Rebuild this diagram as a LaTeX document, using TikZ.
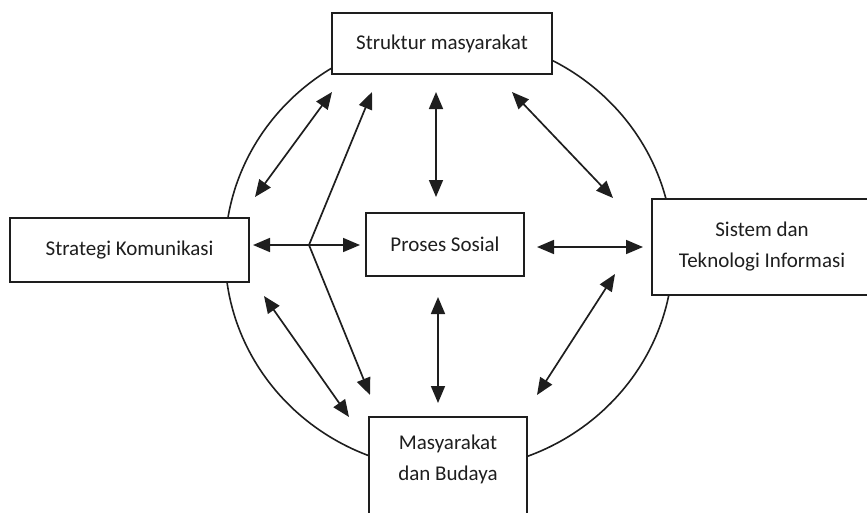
\documentclass[tikz,border=0pt]{standalone}
\usepackage{fontspec}
\setmainfont{Carlito}
\usetikzlibrary{arrows.meta,calc}
\definecolor{ink}{HTML}{1E1E1E}
\begin{document}
\begin{tikzpicture}[x=1pt,y=-1pt,
  txt/.style={align=center,font=\fontsize{21}{31}\selectfont,text=ink,inner sep=0pt},
  box/.style={txt,draw=ink,line width=1.9pt,fill=white,outer sep=0pt},
  head/.tip={Triangle[length=17pt,width=14pt]},
  link/.style={draw=ink,line width=1.7pt,head-head},
  onelink/.style={draw=ink,line width=1.7pt,-head},
  ring/.style={draw=ink,line width=1.6pt}]
\path[use as bounding box,clip] (0,0) rectangle (867,512);

% surrounding ring
\draw[ring] (449,253) ellipse [x radius=224,y radius=217];

% boxes
\node[box,minimum width=220pt,minimum height=61pt] (s) at (442,43.5) {Struktur masyarakat};
\node[box,minimum width=239pt,minimum height=64pt] (k) at (129.5,250) {Strategi Komunikasi};
\node[box,minimum width=158pt,minimum height=63pt] (p) at (445,244.5) {Proses Sosial};
\node[box,minimum width=220pt,minimum height=96pt] (t) at (762,247) {Sistem dan\\Teknologi Informasi};
\node[box,minimum width=158pt,minimum height=98pt,
      label={[txt,yshift=6.5pt]center:Masyarakat\\dan Budaya}] (m) at (448,466) {};

% connectors
\draw[link] ($(s.south west)+(0,18)$) -- ($(k.north east)+(6,-21)$);
\draw[link] ($(s.south)+(-6,18)$) -- ($(p.north)+(-9,-16)$);
\draw[link] ($(s.south east)+(-40,18)$) -- ($(t.north west)+(-39,-1)$);
\draw[link] ($(p.east)+(13,2.5)$) -- ($(t.west)+(-9,0)$);
\draw[link] ($(t.west)+(-37,27)$) -- ($(m.north east)+(10,-22)$);
\draw[link] ($(p.south)+(-7,21)$) -- ($(m.north)+(-10,-14)$);
\draw[link] ($(k.south east)+(15,14)$) -- ($(m.north west)+(-20,0)$);

% forked connector from Strategi Komunikasi
\coordinate (j) at (309,245);
\draw[link] ($(k.east)+(4,-5)$) -- ($(p.west)+(-6,0.5)$);
\draw[onelink] (j) -- ($(s.south west)+(40,18)$);
\draw[onelink] (j) -- ($(m.north west)+(1,-22)$);
\end{tikzpicture}
\end{document}
